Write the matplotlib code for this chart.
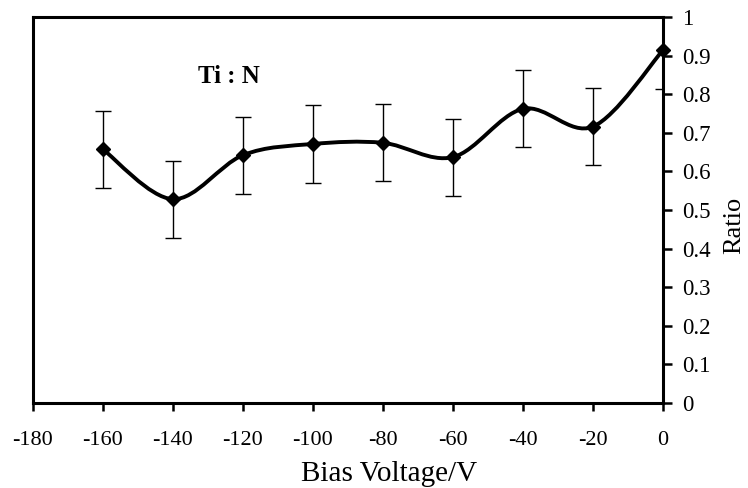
import matplotlib
matplotlib.use("Agg")
import matplotlib.pyplot as plt
import numpy as np
from matplotlib.path import Path
from matplotlib.patches import PathPatch

plt.rcParams["font.family"] = ["Liberation Serif", "DejaVu Serif"]

# ─── data ─────────────────────────────────────────────────────────────────────
bias_voltage = [-160, -140, -120, -100, -80, -60, -40, -20, 0]
ratio = [0.657, 0.528, 0.642, 0.671, 0.674, 0.637, 0.762, 0.716, 0.914]
ratio_err = [0.10, 0.10, 0.10, 0.10, 0.10, 0.10, 0.10, 0.10, 0.10]

x_ticks = [-180, -160, -140, -120, -100, -80, -60, -40, -20, 0]
y_ticks = [0, 0.1, 0.2, 0.3, 0.4, 0.5, 0.6, 0.7, 0.8, 0.9, 1]
y_ticklabels = ["0", "0.1", "0.2", "0.3", "0.4", "0.5", "0.6", "0.7", "0.8", "0.9", "1"]


def smooth_path(xs, ys):
    """Bezier suavizado estilo Excel (Catmull-Rom) passando pelos pontos."""
    p = np.column_stack([xs, ys]).astype(float)
    ext = np.vstack([p[0], p, p[-1]])
    verts = [tuple(p[0])]
    codes = [Path.MOVETO]
    for i in range(1, len(ext) - 2):
        c1 = ext[i] + (ext[i + 1] - ext[i - 1]) / 6.0
        c2 = ext[i + 1] - (ext[i + 2] - ext[i]) / 6.0
        verts += [tuple(c1), tuple(c2), tuple(ext[i + 1])]
        codes += [Path.CURVE4] * 3
    return Path(verts, codes)


fig = plt.figure(figsize=(7.48, 4.88), dpi=100)
ax = fig.add_axes([0.0441, 0.1742, 0.8422, 0.7910])

ax.errorbar(bias_voltage, ratio, yerr=ratio_err, fmt="none", ecolor="black",
            elinewidth=1.0, capsize=6, capthick=1.0, zorder=2)
ax.add_patch(PathPatch(smooth_path(bias_voltage, ratio), facecolor="none",
                       edgecolor="black", lw=2.8, zorder=3, clip_on=False))
ax.plot(bias_voltage, ratio, linestyle="none", marker="D", markersize=7.5,
        color="black", zorder=4, clip_on=False)

ax.set_xlim(-180, 0)
ax.set_ylim(0, 1)
ax.set_xticks(x_ticks)
ax.set_xticklabels([str(v) for v in x_ticks], fontsize=16)
ax.set_yticks(y_ticks)
ax.set_yticklabels(y_ticklabels, fontsize=16.5)

ax.yaxis.tick_right()
ax.tick_params(axis="y", direction="out", length=6.5, width=1.8, pad=7.5)
ax.tick_params(axis="x", direction="out", length=6, width=1.8, pad=14)

for s in ax.spines.values():
    s.set_linewidth(2.2)

ax.set_xlabel("Bias Voltage/V", fontsize=21, va="center")
ax.xaxis.set_label_coords(0.565, -0.183)
ax.set_ylabel("Ratio", fontsize=19, rotation=90, va="center", ha="center")
ax.yaxis.set_label_coords(1.113, 0.459)

ax.text(-124.1, 0.845, "Ti : N", fontsize=18, fontweight="bold",
        ha="center", va="center")

fig.savefig("out.png", dpi=100)
